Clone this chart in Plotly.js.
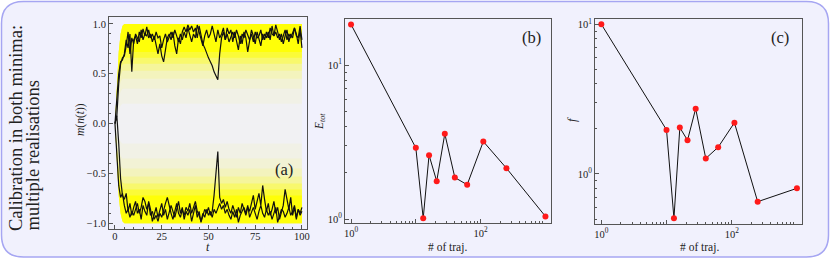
<!DOCTYPE html>
<html>
<head>
<meta charset="utf-8">
<script src="https://cdn.plot.ly/plotly-3.0.1.min.js"></script>
<style>html,body{margin:0;padding:0;background:#fff;}#chart{width:830px;height:263px;}</style>
</head>
<body>
<div id="chart"></div>
<script>
// ---------- Panel (a): time axis and four highlighted trajectories ----------
const tSteps = [0,1,2,3,4,5,6,7,8,9,10,11,12,13,14,15,16,17,18,19,20,21,22,23,24,25,26,27,28,29,30,31,32,33,34,35,36,37,38,39,40,41,42,43,44,45,46,47,48,49,50,51,52,53,54,55,56,57,58,59,60,61,62,63,64,65,66,67,68,69,70,71,72,73,74,75,76,77,78,79,80,81,82,83,84,85,86,87,88,89,90,91,92,93,94,95,96,97,98,99,100];

const trajUp1 = [0.00,0.27,0.50,0.62,0.64,0.70,0.84,0.76,0.90,0.52,
 0.84,0.88,0.80,0.92,0.86,0.95,0.88,0.97,0.86,0.90,
 0.82,0.88,0.78,0.70,0.80,0.68,0.62,0.76,0.86,0.90,
 0.84,0.92,0.78,0.70,0.86,0.80,0.92,0.97,0.92,0.99,
 0.94,0.98,0.92,0.96,0.86,0.98,0.88,0.80,0.76,0.70,
 0.66,0.62,0.58,0.52,0.48,0.44,0.70,0.86,0.92,0.84,
 0.96,0.90,0.94,0.82,0.92,0.84,0.74,0.88,0.80,0.92,
 0.86,0.72,0.84,0.94,0.88,0.80,0.92,0.86,0.78,0.90,
 0.84,0.92,0.86,0.96,0.90,0.88,0.99,0.92,0.84,0.90,
 0.80,0.88,0.94,0.82,0.90,0.86,0.96,0.90,0.80,0.94,
 0.76];

const trajUp2 = [0.00,0.08,0.40,0.60,0.66,0.68,0.78,0.92,0.70,0.86,
 0.80,0.90,0.86,0.82,0.94,0.84,0.90,0.88,0.94,0.86,
 0.90,0.84,0.92,0.86,0.88,0.76,0.84,0.90,0.82,0.88,
 0.92,0.86,0.94,0.88,0.82,0.90,0.84,0.92,0.86,0.96,
 0.88,0.82,0.90,0.86,0.99,0.92,0.84,0.78,0.88,0.94,
 0.86,0.90,0.98,0.88,0.82,0.94,0.86,0.90,0.96,0.84,
 0.90,0.82,0.88,0.92,0.86,0.94,0.88,0.80,0.90,0.86,
 0.94,0.88,0.84,0.90,0.82,0.92,0.86,0.88,0.94,0.84,
 0.90,0.86,0.92,0.84,0.98,0.88,0.92,0.86,0.90,0.82,
 0.88,0.94,0.84,0.90,0.86,0.92,0.96,0.88,0.86,0.98,
 0.84];

const trajDown1 = [0.00,0.08,-0.20,-0.55,-0.72,-0.76,-0.70,-0.88,-0.80,-0.92,
 -0.84,-0.78,-0.90,-0.86,-0.96,-0.82,-0.88,-0.92,-0.78,-0.86,
 -0.98,-0.90,-0.84,-0.94,-0.88,-0.80,-0.92,-0.86,-0.96,-0.90,
 -0.82,-0.88,-0.94,-0.86,-0.78,-0.90,-0.84,-0.96,-0.88,-0.92,
 -0.86,-0.98,-0.90,-0.82,-0.94,-0.88,-0.99,-0.92,-0.86,-0.90,
 -0.84,-0.92,-0.88,-0.72,-0.50,-0.28,-0.74,-0.80,-0.76,-0.84,
 -0.78,-0.86,-0.90,-0.82,-0.88,-0.94,-0.84,-0.90,-0.80,-0.86,
 -0.92,-0.84,-0.88,-0.80,-0.72,-0.86,-0.78,-0.70,-0.82,-0.62,
 -0.76,-0.88,-0.80,-0.92,-0.86,-0.78,-0.90,-0.84,-0.96,-0.88,
 -0.82,-0.66,-0.78,-0.86,-0.74,-0.92,-0.84,-0.96,-0.86,-0.90,
 -0.84];

const trajDown2 = [0.00,-0.35,-0.62,-0.74,-0.70,-0.82,-0.90,-0.86,-0.94,-0.88,
 -0.92,-0.86,-0.80,-0.90,-0.84,-0.74,-0.78,-0.86,-0.80,-0.92,
 -0.88,-0.96,-0.92,-0.98,-0.90,-0.94,-0.86,-0.80,-0.74,-0.84,
 -0.90,-0.96,-0.88,-0.80,-0.90,-0.94,-0.86,-0.92,-0.84,-0.88,
 -0.80,-0.90,-0.84,-0.78,-0.88,-0.92,-0.98,-0.90,-0.94,-0.86,
 -0.92,-0.88,-0.94,-0.86,-0.90,-0.84,-0.80,-0.86,-0.82,-0.90,
 -0.86,-0.92,-0.96,-0.88,-0.94,-0.86,-0.99,-0.92,-0.88,-0.84,
 -0.90,-0.82,-0.94,-0.88,-0.84,-0.90,-0.96,-0.88,-0.82,-0.90,
 -0.94,-0.86,-0.92,-0.88,-0.96,-0.90,-0.84,-0.99,-0.92,-0.86,
 -0.88,-0.94,-0.90,-0.84,-0.92,-0.88,-0.82,-0.94,-0.86,-0.92,
 -0.88];

// envelope of the yellow ensemble (upper half; lower half is its mirror)
const bandT      = [0, 1, 2, 3, 4, 5, 100];
const bandOuter  = [0, 0.42, 0.72, 0.90, 0.98, 1.0, 1.0];
const bandInner0 = [0, 0.00, 0.00, 0.00, 0.00, 0.00, 0.00];
const bandInner1 = [0, 0.08, 0.14, 0.18, 0.20, 0.20, 0.20];
const bandInner2 = [0, 0.14, 0.26, 0.32, 0.35, 0.35, 0.35];
const bandInner3 = [0, 0.18, 0.34, 0.42, 0.45, 0.45, 0.45];
const bandInner4 = [0, 0.22, 0.40, 0.49, 0.53, 0.53, 0.53];
const bandInner5 = [0, 0.25, 0.46, 0.55, 0.59, 0.60, 0.60];
const bandInner6 = [0, 0.28, 0.50, 0.61, 0.65, 0.66, 0.66];
const bandInner7 = [0, 0.30, 0.54, 0.66, 0.71, 0.72, 0.72];

// ---------- Panels (b) and (c) ----------
const nTraj = [1, 10, 13, 16, 21, 28, 40, 62, 110, 250, 1000];
const eTot  = [18.4, 2.9, 1.01, 2.6, 1.76, 3.58, 1.86, 1.67, 3.19, 2.14, 1.04];
const fVal  = [10.0, 1.97, 0.506, 2.04, 1.68, 2.73, 1.27, 1.51, 2.20, 0.653, 0.802];

// tick labels
const aXTicks = [0, 25, 50, 75, 100];
const aYTicks = [-1, -0.5, 0, 0.5, 1];
const aYText  = ['\u22121.0', '\u22120.5', '0.0', '0.5', '1.0'];
const logXTicks = [1, 10, 100];
const logXText  = ['10<sup>0</sup>', '', '10<sup>2</sup>'];
const logYTicks = [1, 10];
const logYText  = ['10<sup>0</sup>', '10<sup>1</sup>'];
const logMinorX = [2,3,4,5,6,7,8,9,20,30,40,50,60,70,80,90,200,300,400,500,600,700,800,900];
const logMinorYb = [2,3,4,5,6,7,8,9,20];
const logMinorYc = [0.5,0.6,0.7,0.8,0.9,2,3,4,5,6,7,8,9];

const SERIF = 'Liberation Serif, DejaVu Serif, serif';
const FRAME = '#555555';

const traces = [];
const layerInners = [bandInner0, bandInner1, bandInner2, bandInner3, bandInner4, bandInner5, bandInner6, bandInner7];
const layerAlpha  = [0.04, 0.05, 0.07, 0.11, 0.18, 0.30, 0.48, 0.85];
layerInners.forEach((inner, i) => {
  const xs = bandT.concat(bandT.slice().reverse());
  const ysUp = bandOuter.concat(inner.slice().reverse());
  const ysDn = ysUp.map(v => -v);
  [ysUp, ysDn].forEach(ys => {
    traces.push({x: xs, y: ys, xaxis: 'x', yaxis: 'y', type: 'scatter', mode: 'lines',
      fill: 'toself', fillcolor: 'rgba(255,255,0,' + layerAlpha[i] + ')',
      line: {width: 0}, hoverinfo: 'skip'});
  });
});
[trajUp1, trajUp2, trajDown1, trajDown2].forEach(tr => {
  traces.push({x: tSteps, y: tr, xaxis: 'x', yaxis: 'y', type: 'scatter', mode: 'lines',
    line: {color: '#111111', width: 1.2}});
});
traces.push({x: nTraj, y: eTot, xaxis: 'x2', yaxis: 'y2', type: 'scatter', mode: 'lines+markers',
  line: {color: '#111111', width: 1}, marker: {color: '#ff1a1a', size: 6}});
traces.push({x: nTraj, y: fVal, xaxis: 'x3', yaxis: 'y3', type: 'scatter', mode: 'lines+markers',
  line: {color: '#111111', width: 1}, marker: {color: '#ff1a1a', size: 6}});

const baseAxis = {
  showline: true, mirror: true, linecolor: FRAME, linewidth: 1,
  ticks: 'inside', ticklen: 4, tickcolor: FRAME, tickwidth: 1,
  showgrid: false, zeroline: false,
  tickfont: {family: SERIF, size: 10.5, color: '#222'}
};

const W = 830, H = 263;
const x0 = 1.5/W, x1 = 1 - 1.5/W, y0 = 1 - 257/H, y1 = 1 - 1.5/H, rx = 22/W, ry = 22/H;
const boxPath = `M ${x0+rx},${y0} L ${x1-rx},${y0} Q ${x1},${y0} ${x1},${y0+ry} L ${x1},${y1-ry} Q ${x1},${y1} ${x1-rx},${y1} L ${x0+rx},${y1} Q ${x0},${y1} ${x0},${y1-ry} L ${x0},${y0+ry} Q ${x0},${y0} ${x0+rx},${y0} Z`;

function ann(text, px, py, size, extra) {
  return Object.assign({text: text, x: px / W, y: 1 - py / H, xref: 'paper', yref: 'paper',
    showarrow: false, xanchor: 'center', yanchor: 'middle',
    font: {family: SERIF, size: size, color: '#222'}}, extra || {});
}

const layout = {
  width: W, height: H, margin: {l: 0, r: 0, t: 0, b: 0},
  font: {family: SERIF},
  paper_bgcolor: '#ffffff', plot_bgcolor: 'rgba(0,0,0,0)', showlegend: false,
  xaxis: Object.assign({}, baseAxis, {domain: [109/W, 307/W], range: [-3.2, 102.7], anchor: 'y',
    tickvals: aXTicks, ticklabelstandoff: -3, minor: {dtick: 5, tick0: 0, ticks: 'inside', ticklen: 2, tickcolor: FRAME}}),
  yaxis: Object.assign({}, baseAxis, {domain: [1 - 229/H, 1 - 17/H], range: [-1.057, 1.07], anchor: 'x',
    tickvals: aYTicks, ticktext: aYText, minor: {dtick: 0.1, tick0: 0, ticks: 'inside', ticklen: 2, tickcolor: FRAME}}),
  xaxis2: Object.assign({}, baseAxis, {type: 'log', domain: [345/W, 551/W], range: [-0.093, 3.086], anchor: 'y2',
    tickvals: logXTicks, ticktext: logXText, minor: {tickvals: logMinorX, ticks: 'inside', ticklen: 2, tickcolor: FRAME}}),
  yaxis2: Object.assign({}, baseAxis, {type: 'log', domain: [1 - 223/H, 1 - 19/H], range: [-0.026, 1.30], anchor: 'x2',
    tickvals: logYTicks, ticktext: logYText, minor: {tickvals: logMinorYb, ticks: 'inside', ticklen: 2, tickcolor: FRAME}}),
  xaxis3: Object.assign({}, baseAxis, {type: 'log', domain: [595/W, 802/W], range: [-0.097, 3.078], anchor: 'y3',
    tickvals: logXTicks, ticktext: logXText, minor: {tickvals: logMinorX, ticks: 'inside', ticklen: 2, tickcolor: FRAME}}),
  yaxis3: Object.assign({}, baseAxis, {type: 'log', domain: [1 - 224/H, 1 - 19/H], range: [-0.334, 1.035], anchor: 'x3',
    tickvals: logYTicks, ticktext: logYText, minor: {tickvals: logMinorYc, ticks: 'inside', ticklen: 2, tickcolor: FRAME}}),
  shapes: [{type: 'path', xref: 'paper', yref: 'paper', path: boxPath,
    fillcolor: '#f1f1fd', line: {color: '#a6a6f2', width: 1.5}, layer: 'below'}],
  annotations: [
    ann('Calibration in both minima:', 16, 233, 18.5, {textangle: -90, yanchor: 'bottom'}),
    ann('multiple realisations', 32, 233, 18.5, {textangle: -90, yanchor: 'bottom'}),
    ann('<i>m</i>(<i>n</i>(<i>t</i>))', 80, 120, 11.5, {textangle: -90}),
    ann('<i>t</i>', 208, 247, 12),
    ann('<i>E</i><sub><i>tot</i></sub>', 320, 122, 11.5, {textangle: -90}),
    ann('<i>f</i>', 572, 120, 12, {textangle: -90}),
    ann('# of traj.', 447, 247, 11.5),
    ann('# of traj.', 699, 247, 11.5),
    ann('(a)', 284, 169, 16.5),
    ann('(b)', 531.5, 37.5, 16.5),
    ann('(c)', 780, 37.5, 16.5)
  ]
};

Plotly.newPlot('chart', traces, layout, {displayModeBar: false, staticPlot: true});
</script>
</body>
</html>
